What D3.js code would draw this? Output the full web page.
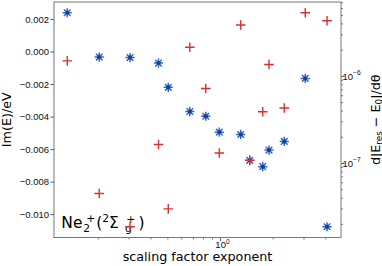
<!DOCTYPE html>
<html>
<head>
<meta charset="utf-8">
<script src="https://cdn.jsdelivr.net/npm/d3@7"></script>
<style>
  body { margin: 0; background: #fff; }
  svg { display: block; font-family: "DejaVu Sans", sans-serif; }
</style>
</head>
<body>
<div id="chart"></div>
<script>
// scaling factor exponent (shared x for both series)
var scaleExp = [0.134, 0.204, 0.306, 0.445, 0.506, 0.672, 0.829, 0.991, 1.313, 1.478, 1.754, 1.905, 2.33, 3.07, 4.09];
// Im(E)/eV, left axis, blue asterisks
var imE = [0.00239, -0.00034, -0.00037, -0.00071, -0.00220, -0.00369, -0.00398, -0.00496,
           -0.00510, -0.00669, -0.00708, -0.00606, -0.00553, -0.00165, -0.01078];
// d|E_res - E_0|/dtheta, right log axis, red pluses
var dEdTheta = [1.485e-6, 4.45e-8, 1.85e-8, 1.63e-7, 2.97e-8, 2.13e-6, 7.16e-7, 1.30e-7,
                3.84e-6, 1.07e-7, 3.87e-7, 1.35e-6, 4.27e-7, 5.31e-6, 4.30e-6];

var leftTicks = [0.002, 0.000, -0.002, -0.004, -0.006, -0.008, -0.010];
var rightTicks = [1e-6, 1e-7];
var bottomTicks = [1];

var xLim = [0.1125, 4.914];
var yLim = [-0.01144, 0.00305];
var y2Lim = [Math.pow(10, -7.856), Math.pow(10, -5.152)];

var W = 382, H = 266;
var margin = { top: 2, right: 41, bottom: 28.5, left: 54 };
var width = W - margin.left - margin.right,
    height = H - margin.top - margin.bottom;

var svg = d3.select("#chart").append("svg")
    .attr("width", W)
    .attr("height", H);

var g = svg.append("g")
    .attr("transform", "translate(" + margin.left + "," + margin.top + ")");

// scales
var x = d3.scaleLog().domain(xLim).range([0, width]);
var y = d3.scaleLinear().domain(yLim).range([height, 0]);
var y2 = d3.scaleLog().domain(y2Lim).range([height, 0]);

var fmt = function(d) {
    var s = d3.format(".3f")(Math.abs(d));
    return (d < -1e-9 ? "\u2212" : "") + s;
};

// left axis
var yAxis = d3.axisLeft(y).tickValues(leftTicks).tickFormat(fmt)
    .tickSize(3.5).tickPadding(1.5);
var gy = g.append("g").call(yAxis);
gy.select(".domain").remove();
gy.selectAll("text").style("font-size", "9.5px").attr("fill", "#111");
gy.selectAll("line").attr("stroke", "#555");

// bottom axis: minor ticks
var minorX = [];
[0.1, 1].forEach(function(b) {
    for (var k = 2; k <= 9; k++) {
        var v = b * k;
        if (v > xLim[0] && v < xLim[1]) minorX.push(v);
    }
});
var gxMinor = g.append("g").attr("transform", "translate(0," + height + ")")
    .call(d3.axisBottom(x).tickValues(minorX).tickFormat("").tickSize(2));
gxMinor.select(".domain").remove();
gxMinor.selectAll("line").attr("stroke", "#777");

var gx = g.append("g").attr("transform", "translate(0," + height + ")")
    .call(d3.axisBottom(x).tickValues(bottomTicks).tickFormat("").tickSize(3.5));
gx.select(".domain").remove();
gx.selectAll("line").attr("stroke", "#555");
gx.selectAll(".tick").each(function(d) {
    var t = d3.select(this).append("text")
        .attr("x", 2).attr("y", 10)
        .attr("text-anchor", "middle")
        .attr("fill", "#111")
        .style("font-size", "9.5px");
    t.append("tspan").text("10");
    t.append("tspan").attr("dy", -3.8).style("font-size", "6.7px")
        .text(String(Math.round(Math.log10(d))));
});

// right axis: minor ticks
var minorY2 = [];
[1e-8, 1e-7, 1e-6].forEach(function(b) {
    for (var k = 2; k <= 9; k++) {
        var v = b * k;
        if (v > y2Lim[0] && v < y2Lim[1]) minorY2.push(v);
    }
});
var gy2Minor = g.append("g").attr("transform", "translate(" + width + ",0)")
    .call(d3.axisRight(y2).tickValues(minorY2).tickFormat("").tickSize(2));
gy2Minor.select(".domain").remove();
gy2Minor.selectAll("line").attr("stroke", "#777");

var gy2 = g.append("g").attr("transform", "translate(" + width + ",0)")
    .call(d3.axisRight(y2).tickValues(rightTicks).tickFormat("").tickSize(3.5));
gy2.select(".domain").remove();
gy2.selectAll("line").attr("stroke", "#555");
gy2.selectAll(".tick").each(function(d) {
    var t = d3.select(this).append("text")
        .attr("x", 1.5).attr("y", 3.5)
        .attr("fill", "#111")
        .style("font-size", "9.5px");
    t.append("tspan").text("10");
    t.append("tspan").attr("dy", -4.5).style("font-size", "6.7px")
        .text("\u2212" + Math.abs(Math.round(Math.log10(d))));
});

// frame
g.append("rect")
    .attr("width", width).attr("height", height)
    .attr("fill", "none").attr("stroke", "#777").attr("stroke-width", 1);

// annotation Ne2+ (2Sigma_g+), pieces placed like mathtext
var annBase = 226.3, big = "15.5px", small = "10.8px";
var ann = g.append("text").attr("fill", "#000").style("font-size", big);
ann.append("tspan").attr("x", 7.3).attr("y", annBase).text("Ne");
ann.append("tspan").attr("x", 29.3).attr("y", annBase + 3.2).style("font-size", small).text("2");
ann.append("tspan").attr("x", 32.3).attr("y", annBase - 6.5).style("font-size", small).text("+");
ann.append("tspan").attr("x", 42.2).attr("y", annBase).text("(");
ann.append("tspan").attr("x", 48.3).attr("y", annBase - 6.5).style("font-size", small).text("2");
ann.append("tspan").attr("x", 55).attr("y", annBase).text("\u03A3");
ann.append("tspan").attr("x", 71).attr("y", annBase + 3.5).style("font-size", small).text("g");
ann.append("tspan").attr("x", 72.2).attr("y", annBase - 5.5).style("font-size", small).text("+");
ann.append("tspan").attr("x", 84.5).attr("y", annBase).text(")");

// blue asterisks
var star = "M-4.6,0H4.6M0,-4.6V4.6M-3.3,-3.3L3.3,3.3M-3.3,3.3L3.3,-3.3";
var stars = g.append("g").selectAll("g")
    .data(scaleExp.map(function(v, i) { return [v, imE[i]]; }))
    .enter().append("g")
    .attr("transform", function(d) { return "translate(" + x(d[0]) + "," + y(d[1]) + ")"; });
stars.append("path").attr("d", star)
    .attr("stroke", "#3468c4").attr("stroke-width", 1.5).attr("fill", "none");
stars.append("circle").attr("r", 2)
    .attr("fill", "#1b3f8e");

// red pluses
g.append("g").selectAll("path")
    .data(scaleExp.map(function(v, i) { return [v, dEdTheta[i]]; }))
    .enter().append("path")
    .attr("transform", function(d) { return "translate(" + x(d[0]) + "," + y2(d[1]) + ")"; })
    .attr("d", "M-4.8,0H4.8M0,-4.8V4.8")
    .attr("stroke", "#d9312f").attr("stroke-width", 1.4);

// axis labels
svg.append("text")
    .attr("x", 197.5).attr("y", 260.5)
    .attr("text-anchor", "middle")
    .attr("fill", "#000")
    .style("font-size", "12.7px")
    .text("scaling factor exponent");

svg.append("text")
    .attr("transform", "translate(10.5," + (margin.top + height / 2) + ") rotate(-90)")
    .attr("text-anchor", "middle")
    .attr("fill", "#000")
    .style("font-size", "12.7px")
    .text("Im(E)/eV");

var rl = svg.append("text")
    .attr("transform", "translate(379.5," + (margin.top + height / 2) + ") rotate(-90)")
    .attr("text-anchor", "middle")
    .attr("fill", "#000")
    .style("font-size", "12.7px");
rl.append("tspan").text("d|E");
rl.append("tspan").attr("dy", 2.5).style("font-size", "8.9px").text("res");
rl.append("tspan").attr("dy", -2.5).text(" \u2212 E");
rl.append("tspan").attr("dy", 2.5).style("font-size", "8.9px").text("0");
rl.append("tspan").attr("dy", -2.5).text("|/d\u03B8");
</script>
</body>
</html>
